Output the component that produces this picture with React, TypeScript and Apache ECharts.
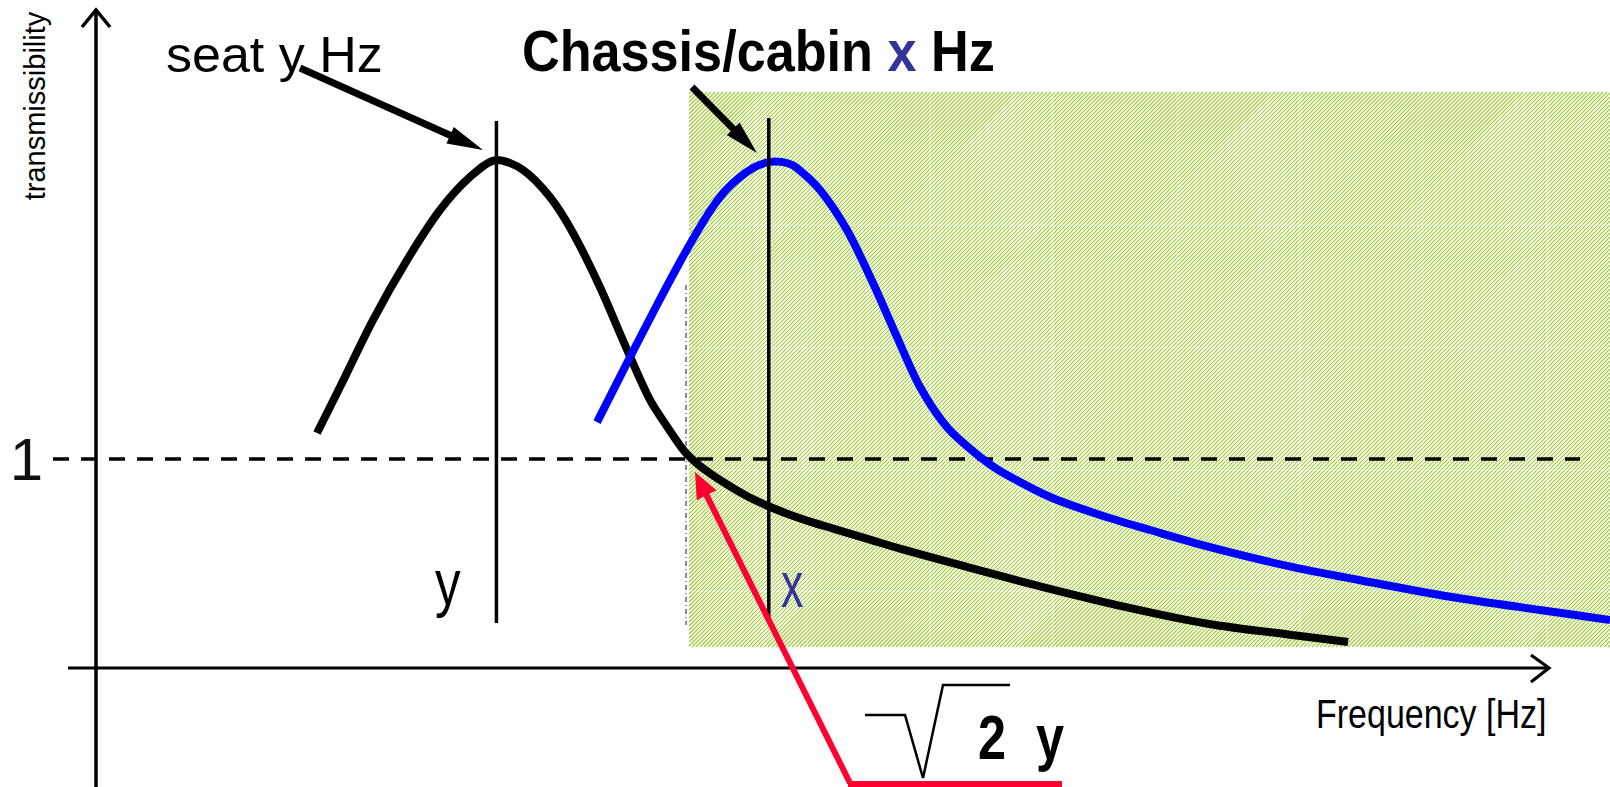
import React, { useEffect, useRef } from 'react';
import * as echarts from 'echarts';

// Seat transmissibility curve (frequency units, transmissibility)
const seatCurve: [number, number][] = [
  [14.54, 1.126], [16.06, 1.346], [18.24, 1.667], [20.49, 1.954], [22.67, 2.194],
  [24.65, 2.352], [26.44, 2.434], [28.16, 2.386], [29.94, 2.256], [31.46, 2.084],
  [33.24, 1.825], [34.9, 1.547], [36.55, 1.284], [37.74, 1.15], [38.86, 1.035],
  [39.85, 0.968], [40.98, 0.91], [42.83, 0.829], [44.35, 0.776], [45.8, 0.734],
  [47.12, 0.701], [48.65, 0.668], [51.09, 0.615], [53.07, 0.572], [57.5, 0.484],
  [62.52, 0.388], [68.01, 0.292], [73.5, 0.211], [78.98, 0.158], [82.69, 0.125],
];

// Chassis / cabin transmissibility curve
const cabinCurve: [number, number][] = [
  [33.05, 1.178], [35.03, 1.461], [37.01, 1.739], [38.53, 1.945], [39.66, 2.089],
  [40.65, 2.204], [41.57, 2.29], [42.5, 2.352], [43.36, 2.395], [44.15, 2.419],
  [44.81, 2.426], [45.6, 2.419], [46.27, 2.395], [47.79, 2.29], [49.57, 2.098],
  [51.29, 1.844], [52.87, 1.586], [54.4, 1.346], [56.18, 1.154], [58.36, 1.011],
  [59.68, 0.944], [62.99, 0.819], [66.29, 0.733], [69.6, 0.661], [73.5, 0.58],
  [78.98, 0.484], [84.47, 0.407], [89.95, 0.335], [95.37, 0.278], [100, 0.23],
];

// Resonance frequencies (peak markers)
const seatFreq = 26.4;
const cabinFreq = 44.4;
const seatMarker: [number, number][] = [[seatFreq, 0.216], [seatFreq, 2.62]];
const cabinMarker: [number, number][] = [[cabinFreq, 0.244], [cabinFreq, 2.635]];

const yTickLabels = ['1'];

const FONT = "'Liberation Sans', Arial, sans-serif";

function arrow(
  tail: [number, number], tip: [number, number], headLen: number, halfW: number,
  shaftW: number, color: string
): any[] {
  const dx = tip[0] - tail[0];
  const dy = tip[1] - tail[1];
  const L = Math.hypot(dx, dy);
  const ux = dx / L, uy = dy / L;
  const bx = tip[0] - ux * headLen, by = tip[1] - uy * headLen;
  const px = -uy, py = ux;
  return [
    {
      type: 'line', z: 20,
      shape: { x1: tail[0], y1: tail[1], x2: bx + ux * 3, y2: by + uy * 3 },
      style: { stroke: color, lineWidth: shaftW },
    },
    {
      type: 'polygon', z: 20,
      shape: { points: [[tip[0], tip[1]], [bx + px * halfW, by + py * halfW], [bx - px * halfW, by - py * halfW]] },
      style: { fill: color },
    },
  ];
}

function hatch(x0: number, y0: number, x1: number, y1: number, step: number): any[] {
  const els: any[] = [];
  for (let c = x0 + y0 + step / 2; c < x1 + y1; c += step) {
    const xa = Math.max(x0, c - y1);
    const xb = Math.min(x1, c - y0);
    if (xb <= xa) continue;
    els.push({
      type: 'line', z: 0, silent: true,
      shape: { x1: xa, y1: c - xa, x2: xb, y2: c - xb },
      style: { stroke: '#a0cd3a', lineWidth: 1.2 },
    });
  }
  return els;
}

export default function App() {
  const ref = useRef<HTMLDivElement>(null);
  useEffect(() => {
    if (!ref.current) return;
    const chart = echarts.init(ref.current, undefined, { renderer: 'svg' });

    const rectX0 = 689, rectY0 = 92, rectX1 = 1610, rectY1 = 647;
    const gridEls: any[] = [];
    [225, 348, 470, 591].forEach((y) =>
      gridEls.push({ type: 'line', z: 1, silent: true, shape: { x1: rectX0, y1: y, x2: rectX1, y2: y }, style: { stroke: 'rgba(255,255,255,0.3)', lineWidth: 1.5 } })
    );
    [807, 930, 1053, 1177, 1300, 1423, 1547].forEach((x) =>
      gridEls.push({ type: 'line', z: 1, silent: true, shape: { x1: x, y1: rectY0, x2: x, y2: rectY1 }, style: { stroke: 'rgba(255,255,255,0.3)', lineWidth: 1.5 } })
    );

    const graphics: any[] = [
      ...hatch(rectX0, rectY0, rectX1, rectY1, 4),
      ...gridEls,
      // dash-dot vertical guide
      { type: 'line', z: 2, shape: { x1: 686, y1: 285, x2: 686, y2: 625 }, style: { stroke: '#666', lineWidth: 1.5, lineDash: [5, 3, 1, 3] } },
      // dashed line at transmissibility = 1
      { type: 'line', z: 2, shape: { x1: 53, y1: 459, x2: 1580, y2: 459 }, style: { stroke: '#000', lineWidth: 3.5, lineDash: [16, 12] } },
      // y axis
      { type: 'line', z: 20, shape: { x1: 96, y1: 9, x2: 96, y2: 787 }, style: { stroke: '#000', lineWidth: 3.5 } },
      { type: 'polyline', z: 20, shape: { points: [[82, 27], [96, 10], [110, 27]] }, style: { stroke: '#000', lineWidth: 3.5, fill: null } },
      // x axis
      { type: 'line', z: 20, shape: { x1: 68, y1: 668, x2: 1549, y2: 668 }, style: { stroke: '#000', lineWidth: 3.2 } },
      { type: 'polyline', z: 20, shape: { points: [[1531, 655], [1549, 668], [1531, 682]] }, style: { stroke: '#000', lineWidth: 3.2, fill: null } },
      // axis titles
      {
        type: 'text', z: 20, x: 35, y: 106, rotation: Math.PI / 2,
        style: { text: 'transmissibility', font: `29px ${FONT}`, fill: '#000', align: 'center', verticalAlign: 'middle' },
      },
      {
        type: 'text', z: 20, x: 1316, y: 714, scaleX: 0.85,
        style: { text: 'Frequency [Hz]', font: `40px ${FONT}`, fill: '#000', align: 'left', verticalAlign: 'middle' },
      },
      // annotations
      {
        type: 'text', z: 20, x: 166, y: 55, scaleX: 1.04,
        style: { text: 'seat y Hz', font: `50px ${FONT}`, fill: '#000', align: 'left', verticalAlign: 'middle' },
      },
      {
        type: 'text', z: 20, x: 522, y: 51, scaleX: 0.9,
        style: {
          text: '{a|Chassis/cabin }{b|x}{a| Hz}',
          align: 'left', verticalAlign: 'middle',
          rich: {
            a: { font: `bold 58px ${FONT}`, fill: '#000' },
            b: { font: `bold 58px ${FONT}`, fill: '#333399' },
          },
        },
      },
      {
        type: 'text', z: 20, x: 435, y: 583, scaleX: 0.8,
        style: { text: 'y', font: `64px ${FONT}`, fill: '#000', align: 'left', verticalAlign: 'middle' },
      },
      {
        type: 'text', z: 20, x: 781, y: 585, scaleX: 0.7,
        style: { text: 'x', font: `64px ${FONT}`, fill: '#333399', align: 'left', verticalAlign: 'middle' },
      },
      ...arrow([300, 68], [483, 150], 36, 9, 7, '#000'),
      ...arrow([692, 87], [757, 153], 34, 9, 7, '#000'),
      ...arrow([850, 783], [695, 472], 26, 11, 6, '#ff0033'),
      { type: 'line', z: 20, shape: { x1: 848, y1: 784, x2: 1062, y2: 784 }, style: { stroke: '#ff0033', lineWidth: 6 } },
      // sqrt(2) y
      { type: 'polyline', z: 20, shape: { points: [[865, 715], [905, 715], [923, 778], [943, 685], [1010, 685]] }, style: { stroke: '#000', lineWidth: 2.5, fill: null } },
      {
        type: 'text', z: 20, x: 978, y: 737, scaleX: 0.8,
        style: { text: '2', font: `bold 63px ${FONT}`, fill: '#000', align: 'left', verticalAlign: 'middle' },
      },
      {
        type: 'text', z: 20, x: 1036, y: 737, scaleX: 0.8,
        style: { text: 'y', font: `bold 63px ${FONT}`, fill: '#000', align: 'left', verticalAlign: 'middle' },
      },
    ];

    chart.setOption({
      animation: false,
      backgroundColor: '#fff',
      grid: { left: 97, right: 0, top: 0, bottom: 119, containLabel: false },
      xAxis: { type: 'value', min: 0, max: 100, show: false },
      yAxis: {
        type: 'value', min: 0, max: 3.2, interval: 1,
        axisLine: { show: false }, axisTick: { show: false }, splitLine: { show: false },
        axisLabel: {
          margin: 54, fontSize: 60, color: '#111', fontFamily: FONT,
          formatter: (v: number) => (yTickLabels.includes(String(v)) ? String(v) : ''),
        },
      },
      graphic: { elements: graphics },
      series: [
        {
          type: 'line', data: seatCurve, smooth: 0.3, symbol: 'none', z: 5,
          lineStyle: { color: '#000', width: 8 }, silent: true,
        },
        {
          type: 'line', data: cabinCurve, smooth: 0.3, symbol: 'none', z: 5,
          lineStyle: { color: '#0000ff', width: 8 }, silent: true,
        },
        {
          type: 'line', data: seatMarker, symbol: 'none', z: 6,
          lineStyle: { color: '#000', width: 3.5 }, silent: true,
        },
        {
          type: 'line', data: cabinMarker, symbol: 'none', z: 6,
          lineStyle: { color: '#000', width: 3.5 }, silent: true,
        },
      ],
    });
    return () => chart.dispose();
  }, []);
  return (
    <div
      ref={ref}
      style={{ position: 'absolute', left: 0, top: 0, width: 1610, height: 787, background: '#fff' }}
    />
  );
}
